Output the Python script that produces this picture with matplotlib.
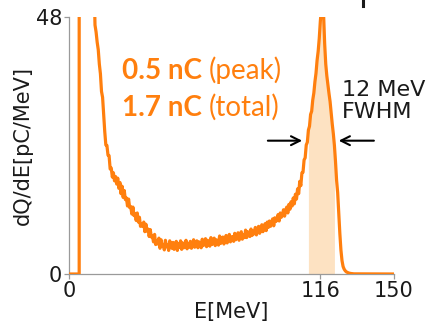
import numpy as np
import matplotlib
matplotlib.use("Agg")
import matplotlib.pyplot as plt
from matplotlib.lines import Line2D

# ---------------- data ----------------
# leading part: zero, then a vertical jump far above the axis limit
E_head = [0.0, 4.7, 4.7, 8.0]
Q_head = [0.0, 0.0, 300.0, 120.0]

# main spectrum sampled every 0.5 MeV from 12.0 to 131.5 MeV
E_main_start, E_main_step, E_main_stop = 12.0, 0.5, 132.0
Q_main = [
    46.5, 45.2, 43.3, 41.9, 39.2, 37.4, 34.1, 33.0, 29.8, 26.6, 24.1, 24.0, 22.2, 22.1, 19.6, 19.8, 18.1, 18.9, 17.4, 18.2,
    16.8, 17.9, 16.0, 17.1, 15.0, 16.4, 14.3, 15.6, 13.9, 14.2, 12.7, 14.0, 12.4, 12.6, 11.2, 12.5, 10.9, 11.3, 10.0, 11.4,
    9.7, 10.6, 8.9, 9.4, 8.9, 9.7, 7.9, 9.3, 8.0, 8.4, 7.0, 8.3, 6.9, 7.1, 6.0, 7.4, 5.5, 6.2, 5.6, 6.7,
    4.8, 6.4, 5.2, 5.5, 4.5, 6.3, 5.1, 5.4, 4.4, 6.2, 5.2, 4.8, 5.9, 4.6, 5.3, 6.1, 4.4, 5.7, 5.0, 6.2,
    4.6, 5.8, 4.9, 5.2, 6.3, 4.7, 5.6, 5.0, 6.1, 4.8, 5.4, 6.4, 5.0, 5.3, 6.2, 4.9, 6.0, 5.5, 4.9, 6.5,
    5.3, 5.9, 6.6, 5.1, 6.3, 5.6, 5.2, 6.8, 5.5, 6.0, 6.7, 5.3, 6.4, 5.8, 5.4, 7.1, 5.7, 6.5, 6.9, 5.6,
    6.3, 7.2, 5.8, 6.6, 7.4, 6.0, 6.9, 7.0, 6.1, 7.6, 6.4, 6.8, 7.7, 6.3, 7.2, 7.9, 6.5, 7.3, 6.8, 8.2,
    6.8, 7.9, 7.4, 7.0, 8.4, 7.2, 8.0, 7.5, 8.7, 7.3, 8.3, 8.9, 7.6, 8.5, 9.2, 7.9, 8.8, 9.4, 8.1, 9.7,
    8.7, 9.9, 8.9, 9.6, 10.3, 9.0, 10.5, 9.8, 10.2, 11.1, 9.9, 11.4, 10.6, 11.0, 12.0, 10.8, 11.9, 12.5, 11.4, 13.0,
    12.1, 13.5, 12.7, 14.2, 13.1, 14.9, 14.0, 15.9, 15.0, 17.3, 16.5, 18.9, 19.0, 21.3, 21.7, 24.1, 24.6, 26.9, 27.6, 29.8,
    30.4, 32.5, 33.8, 35.9, 37.5, 39.9, 41.6, 44.0, 47.2, 49.6, 49.3, 48.5, 43.0, 39.2, 37.0, 35.3, 33.7, 32.2, 30.1, 28.0,
    26.2, 24.0, 21.0, 17.5, 15.2, 11.5, 7.6, 4.5, 2.5, 1.4, 0.9, 0.6, 0.4, 0.3, 0.2, 0.15, 0.1, 0.08, 0.05, 0.03,
]
E_tail = [150.0]
Q_tail = [0.0]

fwhm_lo, fwhm_hi = 110.5, 122.5
x_ticks = [0, 116, 150]
y_ticks = [0, 48]

charge_bold = ["0.5 nC", "1.7 nC"]
charge_note = ["(peak)", "(total)"]
fwhm_label = "12 MeV\nFWHM"

# ---------------- plot ----------------
E_main = np.arange(E_main_start, E_main_stop, E_main_step)
E = np.concatenate([E_head, E_main, E_tail])
Q = np.concatenate([Q_head, Q_main, Q_tail])

orange = "#ff7f0e"
fig = plt.figure(figsize=(4.31, 3.28), dpi=100)
ax = fig.add_axes([69 / 431, 54 / 328, 325 / 431, 257 / 328])

mask = (E >= fwhm_lo) & (E <= fwhm_hi)
ax.fill_between(E, 0, Q, where=mask, color="#fde2c2", lw=0, zorder=1)
ax.plot(E, Q, color=orange, lw=2.3, zorder=3, solid_joinstyle="round")

ax.set_xlim(0, 150)
ax.set_ylim(0, 48)
ax.set_xticks(x_ticks)
ax.set_yticks(y_ticks)
for s in ["top", "right"]:
    ax.spines[s].set_visible(False)
for s in ["left", "bottom"]:
    ax.spines[s].set_color("#9a9a9a")
    ax.spines[s].set_linewidth(0.9)
ax.tick_params(colors="#9a9a9a", labelcolor="#1a1a1a", labelsize=15,
               length=3.5, width=0.9, pad=1.5)
ax.set_xlabel("E[MeV]", fontsize=15, color="#1a1a1a", labelpad=1)
ax.set_ylabel("dQ/dE[pC/MeV]", fontsize=15, color="#1a1a1a", labelpad=2)

# charge annotations
font_ann = ["Lato", "DejaVu Sans"]
for i, (b, n) in enumerate(zip(charge_bold, charge_note)):
    yv = [36.5, 29.5][i]
    t = ax.text(24.3, yv, b, fontsize=20, fontweight="bold", color=orange,
                family=font_ann, va="baseline", ha="left")
    ax.annotate(n, xy=(1, 0), xycoords=t, xytext=(5, 0), textcoords="offset points",
                fontsize=20, color=orange, family=font_ann, va="bottom", ha="left")

# FWHM arrows
ax.annotate("", xy=(108.9, 24.9), xytext=(90.5, 24.9),
            arrowprops=dict(arrowstyle="->", color="black", lw=1.5, mutation_scale=16))
ax.annotate("", xy=(123.2, 24.9), xytext=(142.0, 24.9),
            arrowprops=dict(arrowstyle="->", color="black", lw=1.5, mutation_scale=16),
            annotation_clip=False)
ax.text(125.9, 36.2, fwhm_label, fontsize=16, color="#1a1a1a", va="top", ha="left",
        linespacing=1.12)

# fragment of a cut-off title at the top edge
fig.add_artist(Line2D([363 / 431, 363 / 431], [1.0, 1 - 6 / 328], color="#1a1a1a",
                      lw=2.2, transform=fig.transFigure))

fig.savefig("out.png", dpi=100)
